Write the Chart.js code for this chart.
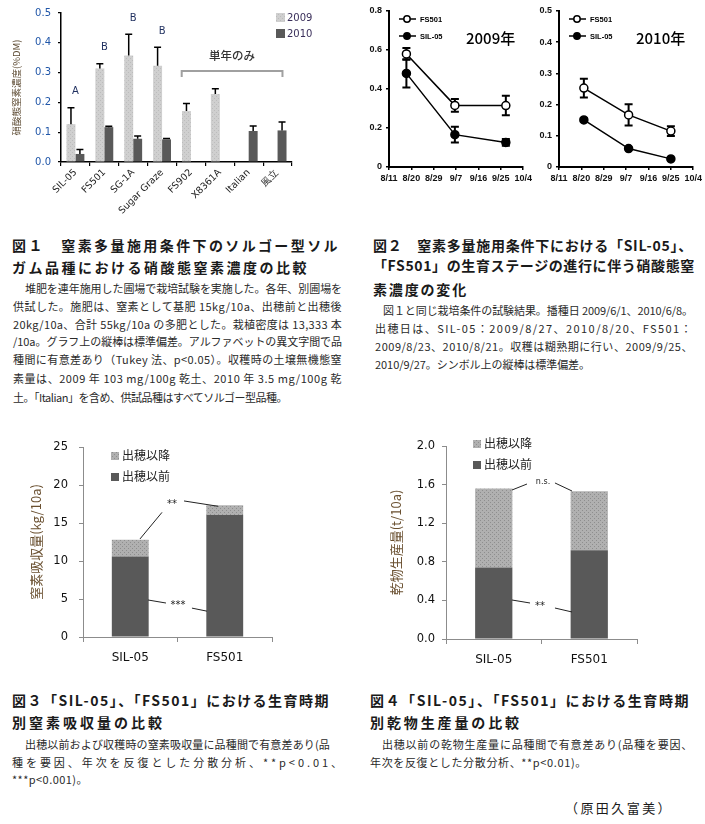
<!DOCTYPE html>
<html><head><meta charset="utf-8">
<script src="https://cdn.jsdelivr.net/npm/chart.js@4.4.0/dist/chart.umd.min.js"></script>
<style>
html,body{margin:0;padding:0;background:#fff}
body{width:705px;height:824px;position:relative;overflow:hidden;font-family:"Noto Sans CJK JP",sans-serif}
canvas{position:absolute}
.t{position:absolute;font-weight:700;font-size:14px;line-height:14px;color:#1a1a1a;white-space:nowrap}
.b{position:absolute;font-size:11px;line-height:11px;color:#2a2a2a;white-space:nowrap}
</style></head>
<body>
<canvas id="c1" width="325" height="230" style="left:0;top:0"></canvas>
<canvas id="c2a" width="175" height="200" style="left:360px;top:0"></canvas>
<canvas id="c2b" width="175" height="200" style="left:530px;top:0"></canvas>
<canvas id="c3" width="300" height="270" style="left:0;top:420px"></canvas>
<canvas id="c4" width="300" height="270" style="left:360px;top:420px"></canvas>

<div class="t" data-w="328" style="left:12px;top:238px">図１　窒素多量施用条件下のソルゴー型ソル</div>
<div class="t" data-w="297" style="left:12px;top:260px">ガム品種における硝酸態窒素濃度の比較</div>
<div class="b" data-w="317" style="left:25px;top:283px">堆肥を連年施用した圃場で栽培試験を実施した。各年、別圃場を</div>
<div class="b" data-w="329" style="left:13px;top:301px">供試した。施肥は、窒素として基肥 15kg/10a、出穂前と出穂後</div>
<div class="b" data-w="329" style="left:13px;top:319px">20kg/10a、合計 55kg/10a の多肥とした。栽植密度は 13,333 本</div>
<div class="b" data-w="329" style="left:13px;top:336px">/10a。グラフ上の縦棒は標準偏差。アルファベットの異文字間で品</div>
<div class="b" data-w="329" style="left:13px;top:354px">種間に有意差あり（Tukey 法、p&lt;0.05）。収穫時の土壌無機態窒</div>
<div class="b" data-w="329" style="left:13px;top:373px">素量は、2009 年 103 mg/100g 乾土、2010 年 3.5 mg/100g 乾</div>
<div class="b" data-w="274" style="left:13px;top:392px">土。「Italian」を含め、供試品種はすべてソルゴー型品種。</div>

<div class="t" data-w="320" style="left:373px;top:238px">図２　窒素多量施用条件下における「SIL-05」、</div>
<div class="t" data-w="322" style="left:373px;top:258px">「FS501」の生育ステージの進行に伴う硝酸態窒</div>
<div class="t" data-w="95" style="left:373px;top:282px">素濃度の変化</div>
<div class="b" data-w="310" style="left:383px;top:305px">図１と同じ栽培条件の試験結果。播種日 2009/6/1、2010/6/8。</div>
<div class="b" data-w="318" style="left:375px;top:323px">出穂日は、SIL-05：2009/8/27、2010/8/20、FS501：</div>
<div class="b" data-w="318" style="left:375px;top:341px">2009/8/23、2010/8/21。収穫は糊熟期に行い、2009/9/25、</div>
<div class="b" data-w="215" style="left:375px;top:359px">2010/9/27。シンボル上の縦棒は標準偏差。</div>

<div class="t" data-w="318" style="left:12px;top:693px">図３「SIL-05」、「FS501」における生育時期</div>
<div class="t" data-w="153" style="left:12px;top:715px">別窒素吸収量の比較</div>
<div class="b" data-w="305" style="left:25px;top:739px">出穂以前および収穫時の窒素吸収量に品種間で有意差あり(品</div>
<div class="b" data-w="333" style="left:12px;top:757px">種を要因、年次を反復とした分散分析、**p&lt;0.01、</div>
<div class="b" data-w="76" style="left:12px;top:774px">***p&lt;0.001)。</div>

<div class="t" data-w="320" style="left:370px;top:693px">図４「SIL-05」、「FS501」における生育時期</div>
<div class="t" data-w="152" style="left:370px;top:715px">別乾物生産量の比較</div>
<div class="b" data-w="311" style="left:382px;top:739px">出穂以前の乾物生産量に品種間で有意差あり(品種を要因、</div>
<div class="b" data-w="217" style="left:370px;top:757px">年次を反復とした分散分析、**p&lt;0.01)。</div>
<div class="t" data-w="108" style="left:565px;top:801px;font-weight:400;font-size:13px">（原田久富美）</div>

<script>
// ---------- DATA ----------
// Fig.1
const cats1 = ['SIL-05','FS501','SG-1A','Sugar Graze','FS902','X8361A','Italian','風立'];
const v2009 = [0.127, 0.314, 0.357, 0.323, 0.171, 0.228, null, null];
const sd2009 = [0.055, 0.016, 0.072, 0.062, 0.025, 0.018, null, null];
const v2010 = [0.027, 0.117, 0.078, 0.076, null, null, 0.104, 0.106];
const sd2010 = [0.015, 0.003, 0.009, 0.003, null, null, 0.017, 0.028];
const letters1 = ['A','B','B','B'];
// Fig.2
const dateLabels = ['8/11','8/20','8/29','9/7','9/16','9/25','10/4'];
const days09 = [7, 26.5, 47];
const fs09 = [0.580, 0.316, 0.315];
const fsSd09 = [0.030, 0.033, 0.050];
const sil09 = [0.480, 0.166, 0.126];
const silSd09 = [0.072, 0.040, 0.017];
const days10 = [10, 28, 45];
const fs10 = [0.253, 0.167, 0.115];
const fsSd10 = [0.030, 0.034, 0.016];
const sil10 = [0.151, 0.059, 0.026];
const silSd10 = [0.005, 0.002, 0.002];
// Fig.3 / Fig.4
const cats34 = ['SIL-05','FS501'];
const nBefore = [10.6, 16.05];
const nAfter = [2.2, 1.3];
const dmBefore = [0.74, 0.92];
const dmAfter = [0.82, 0.61];

// ---------- helpers ----------
const SANS = "'DejaVu Sans', sans-serif";
const JP = "'Noto Sans CJK JP', sans-serif";
function dots(base, dot, size, pts){
  const c=document.createElement('canvas'); c.width=c.height=size;
  const g=c.getContext('2d'); g.fillStyle=base; g.fillRect(0,0,size,size);
  g.fillStyle=dot; pts.forEach(p=>g.fillRect(p[0],p[1],1,1));
  return g.createPattern(c,'repeat');
}
const pat09 = dots('#cfcfcf','#bcbcbc',4,[[0,0],[2,2]]);
const patAfter = dots('#b0b0b0','#8e8e8e',4,[[0,0],[2,2]]);
const DARK = '#595959';

// ---------- Fig.1 ----------
const fig1Plugin = {
  id:'fig1',
  afterDatasetsDraw(chart){
    const {ctx, scales:{x,y}} = chart;
    ctx.save();
    [[v2009,sd2009],[v2010,sd2010]].forEach((pair,di)=>{
      const meta = chart.getDatasetMeta(di);
      pair[0].forEach((v,i)=>{
        if(v==null) return;
        const bx = meta.data[i].x, yt = y.getPixelForValue(v), ye = y.getPixelForValue(v+pair[1][i]);
        ctx.strokeStyle='#000'; ctx.lineWidth=1.5;
        ctx.beginPath(); ctx.moveTo(bx,yt); ctx.lineTo(bx,ye);
        ctx.moveTo(bx-3.5,ye); ctx.lineTo(bx+3.5,ye); ctx.stroke();
      });
    });
    ctx.fillStyle='#1f2f5f'; ctx.font='10px '+SANS; ctx.textAlign='center'; ctx.textBaseline='middle';
    letters1.forEach((l,i)=>{
      const top = Math.max(v2009[i]+sd2009[i], v2010[i]+sd2010[i]);
      ctx.fillText(l, x.getPixelForValue(i), y.getPixelForValue(top)-16);
    });
    const bx1=x.getPixelForValue(3.68), bx2=x.getPixelForValue(7.17), by=y.getPixelForValue(0.305), by2=y.getPixelForValue(0.285);
    ctx.strokeStyle='#a0a0a0'; ctx.lineWidth=2;
    ctx.beginPath(); ctx.moveTo(bx1,by2); ctx.lineTo(bx1,by); ctx.lineTo(bx2,by); ctx.lineTo(bx2,by2); ctx.stroke();
    ctx.fillStyle='#333'; ctx.font='500 11.5px '+JP;
    ctx.fillText('単年のみ', (bx1+bx2)/2, y.getPixelForValue(0.357));
    ctx.fillStyle=pat09; ctx.fillRect(276,13,9,9);
    ctx.fillStyle=DARK; ctx.fillRect(276,29,9,9);
    ctx.fillStyle='#3a2f5a'; ctx.font='10px '+SANS; ctx.textAlign='left';
    ctx.fillText('2009',287,18); ctx.fillText('2010',287,34);
    ctx.restore();
  }
};
new Chart(document.getElementById('c1'),{
  type:'bar',
  data:{labels:cats1,datasets:[
    {label:'2009',data:v2009,backgroundColor:pat09,barPercentage:1,categoryPercentage:0.62},
    {label:'2010',data:v2010,backgroundColor:DARK,barPercentage:1,categoryPercentage:0.62}
  ]},
  options:{responsive:false,devicePixelRatio:1,animation:false,
    layout:{padding:{top:11,right:33,left:0,bottom:0}},
    plugins:{legend:{display:false},tooltip:{enabled:false}},
    scales:{
      x:{ticks:{autoSkip:false,minRotation:45,maxRotation:45,color:'#222',font:{size:9.5,family:SANS},padding:1},
         grid:{drawOnChartArea:false,color:'#000',tickLength:4,lineWidth:1.2},border:{color:'#000',width:1.5},
         afterFit:s=>{s.height=68;}},
      y:{min:0,max:0.5,ticks:{stepSize:0.1,callback:v=>v.toFixed(1),color:'#2056a8',font:{size:10,family:SANS},padding:7},
         grid:{drawOnChartArea:false,color:'#000',tickLength:3,lineWidth:1.2},border:{color:'#000',width:1.5},
         title:{display:true,text:'硝酸態窒素濃度(%DM)',color:'#5c4a32',font:{size:9.5,family:JP},padding:{top:11}},
         afterFit:s=>{s.width=61;}}
    }},
  plugins:[fig1Plugin]
});

// ---------- Fig.2 ----------
function fig2(id, days, fs, fsSd, sil, silSd, ymax, ystep, yearText, padRight){
  const errPlugin = {
    id:'err'+id,
    beforeDatasetsDraw(chart){
      const {ctx, scales:{x,y}} = chart;
      ctx.save(); ctx.strokeStyle='#000'; ctx.lineWidth=2;
      [[fs,fsSd],[sil,silSd]].forEach(pair=>{
        pair[0].forEach((v,i)=>{
          const px=x.getPixelForValue(days[i]);
          const y1=y.getPixelForValue(v+pair[1][i]), y2=y.getPixelForValue(v-pair[1][i]);
          ctx.beginPath(); ctx.moveTo(px,y1); ctx.lineTo(px,y2);
          ctx.moveTo(px-4,y1); ctx.lineTo(px+4,y1); ctx.moveTo(px-4,y2); ctx.lineTo(px+4,y2); ctx.stroke();
        });
      });
      ctx.restore();
    },
    afterDatasetsDraw(chart){
      const {ctx, chartArea} = chart;
      const lx = chartArea.left+10, ly1 = chartArea.top+8, ly2 = chartArea.top+25;
      ctx.save(); ctx.strokeStyle='#000'; ctx.lineWidth=1.5;
      [[ly1,'#fff','FS501'],[ly2,'#000','SIL-05']].forEach(([ly,fill,txt])=>{
        ctx.beginPath(); ctx.moveTo(lx,ly); ctx.lineTo(lx+17,ly); ctx.stroke();
        ctx.beginPath(); ctx.arc(lx+8,ly,3.2,0,Math.PI*2); ctx.fillStyle=fill; ctx.fill(); ctx.stroke();
        ctx.fillStyle='#000'; ctx.font='bold 7.5px Liberation Sans'; ctx.textBaseline='middle'; ctx.textAlign='left';
        ctx.fillText(txt, lx+21, ly+0.5);
      });
      ctx.font='500 15px '+JP; ctx.textAlign='left';
      ctx.fillText(yearText, chartArea.left+77, chartArea.top+27);
      ctx.restore();
    }
  };
  return new Chart(document.getElementById(id),{
    type:'line',
    data:{datasets:[
      {label:'FS501',data:days.map((d,i)=>({x:d,y:fs[i]})),borderColor:'#000',borderWidth:1.5,pointRadius:4,
       pointBackgroundColor:'#fff',pointBorderColor:'#000',pointBorderWidth:1.5},
      {label:'SIL-05',data:days.map((d,i)=>({x:d,y:sil[i]})),borderColor:'#000',borderWidth:1.5,pointRadius:4,
       pointBackgroundColor:'#000',pointBorderColor:'#000',pointBorderWidth:1.5}
    ]},
    options:{responsive:false,devicePixelRatio:1,animation:false,
      layout:{padding:{top:11,right:padRight,left:0,bottom:0}},
      plugins:{legend:{display:false},tooltip:{enabled:false}},
      scales:{
        x:{type:'linear',min:0,max:54,ticks:{stepSize:9,callback:v=>dateLabels[Math.round(v/9)],color:'#111',
           font:{size:9,family:'Liberation Sans',weight:'bold'},padding:3,maxRotation:0,autoSkip:false},
           grid:{drawOnChartArea:false,color:'#000',tickLength:3,lineWidth:1.5},border:{color:'#000',width:2},
           afterFit:s=>{s.height=33;}},
        y:{min:0,max:ymax,ticks:{stepSize:ystep,color:'#111',font:{size:9,family:'Liberation Sans',weight:'bold'},padding:4},
           grid:{drawOnChartArea:false,color:'#000',tickLength:3,lineWidth:1.5},border:{color:'#000',width:2},
           afterFit:s=>{s.width=29;}}
      }},
    plugins:[errPlugin]
  });
}
fig2('c2a', days09, fs09, fsSd09, sil09, silSd09, 0.8, 0.2, '2009年', 9);
fig2('c2b', days10, fs10, fsSd10, sil10, silSd10, 0.5, 0.1, '2010年', 8);

// ---------- Fig.3 / Fig.4 ----------
function stacked(id, before, after, ymax, ystep, fmt, yTitle, yWidth, padTop, padRight, xH, tickPad, legOff, lines, marks){
  const annPlugin = {
    id:'ann'+id,
    afterDatasetsDraw(chart){
      const {ctx, scales:{x,y}, chartArea} = chart;
      ctx.save(); ctx.strokeStyle='#222'; ctx.lineWidth=1;
      lines.forEach(l=>{
        ctx.beginPath(); ctx.moveTo(x.getPixelForValue(l[0]),y.getPixelForValue(l[1]));
        ctx.lineTo(x.getPixelForValue(l[2]),y.getPixelForValue(l[3])); ctx.stroke();
      });
      ctx.fillStyle='#222'; ctx.textAlign='center'; ctx.textBaseline='middle';
      marks.forEach(m=>{ ctx.font=m[3]+'px '+SANS; ctx.fillText(m[0],x.getPixelForValue(m[1]),y.getPixelForValue(m[2])); });
      const lx = chartArea.left+legOff[0], ly = chartArea.top+legOff[1];
      ctx.fillStyle=patAfter; ctx.fillRect(lx,ly,8,8);
      ctx.fillStyle=DARK; ctx.fillRect(lx,ly+21,8,8);
      ctx.fillStyle='#222'; ctx.font='12px '+JP; ctx.textAlign='left';
      ctx.fillText('出穂以降',lx+11,ly+3.5); ctx.fillText('出穂以前',lx+11,ly+24.5);
      ctx.restore();
    }
  };
  return new Chart(document.getElementById(id),{
    type:'bar',
    data:{labels:cats34,datasets:[
      {label:'出穂以前',data:before,backgroundColor:DARK,barPercentage:0.39,categoryPercentage:1},
      {label:'出穂以降',data:after,backgroundColor:patAfter,barPercentage:0.39,categoryPercentage:1}
    ]},
    options:{responsive:false,devicePixelRatio:1,animation:false,
      layout:{padding:{top:padTop,right:padRight,left:0,bottom:0}},
      plugins:{legend:{display:false},tooltip:{enabled:false}},
      scales:{
        x:{stacked:true,ticks:{color:'#111',font:{size:12,family:SANS},padding:9},
           grid:{drawOnChartArea:false,color:'#8c8c8c',tickLength:5},border:{color:'#8c8c8c',width:1},
           afterFit:s=>{s.height=xH;}},
        y:{stacked:true,min:0,max:ymax,ticks:{stepSize:ystep,callback:fmt,color:'#111',font:{size:11.5,family:SANS},padding:tickPad},
           grid:{drawOnChartArea:false,color:'#8c8c8c',tickLength:4},border:{color:'#8c8c8c',width:1},
           title:{display:true,text:yTitle,color:'#6a5030',font:{size:13,family:JP},padding:{top:28}},
           afterFit:s=>{s.width=yWidth;}}
      }},
    plugins:[annPlugin]
  });
}
stacked('c3', nBefore, nAfter, 25, 5, v=>String(v), '窒素吸収量(kg/10a)', 83, 27, 28, 53, 11, [28,5],
  [[0.103,12.9,0.336,16.4],[0.569,17.9,0.929,17.2],[0.188,4.87,0.378,4.47],[0.653,3.8,0.812,3.4]],
  [['**',0.442,17.4,10],['***',0.505,4.2,10]]);
stacked('c4', dmBefore, dmAfter, 2.0, 0.4, v=>v.toFixed(1), '乾物生産量(t/10a)', 86, 26, 23, 51, 7, [27,-6],
  [[0.191,1.544,0.348,1.606],[0.641,1.617,0.819,1.534],[0.191,0.404,0.380,0.373],[0.641,0.321,0.819,0.28]],
  [['n.s.',0.516,1.627,8],['**',0.484,0.342,10]]);

// ---------- fit caption lines ----------
function fit(){
  document.querySelectorAll('[data-w]').forEach(el=>{
    el.style.letterSpacing='0px';
    const w = el.getBoundingClientRect().width;
    const n = [...el.textContent].length;
    el.style.letterSpacing = ((+el.dataset.w - w)/n)+'px';
  });
}
fit();
if(document.fonts && document.fonts.ready) document.fonts.ready.then(fit);
</script>
</body></html>
